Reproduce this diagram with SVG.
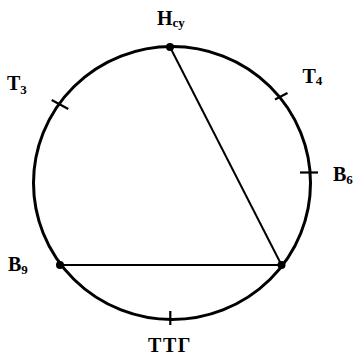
<svg xmlns="http://www.w3.org/2000/svg" width="354" height="356" viewBox="0 0 354 356">
<style>
.lbl{font-family:"Liberation Serif","Times New Roman",serif;font-weight:bold;font-size:20px;fill:#000}
.sub{font-size:13px}
.tick{stroke:#000;stroke-width:2.2;fill:none}
.chord{stroke:#000;stroke-width:2;fill:none}
</style>
<rect width="354" height="356" fill="#fff"/>
<g id="circle">
<ellipse cx="172" cy="183" rx="138.5" ry="136.5" fill="none" stroke="#000" stroke-width="3"/>
</g>
<g id="connectors">
<line class="chord" x1="170" y1="47" x2="281.5" y2="265"/>
<line class="chord" x1="60" y1="265" x2="281.5" y2="265"/>
</g>
<g id="Hcy">
<circle cx="170" cy="47" r="4" fill="#000"/>
<text class="lbl" x="157" y="24.5">H<tspan class="sub" dy="2">cy</tspan></text>
</g>
<g id="T3">
<line class="tick" x1="51.7" y1="100" x2="68.3" y2="109"/>
<text class="lbl" x="7" y="89.5">T<tspan class="sub" dy="4.5">3</tspan></text>
</g>
<g id="T4">
<line class="tick" x1="275" y1="99.5" x2="287.5" y2="93"/>
<text class="lbl" x="302.5" y="82.7">T<tspan class="sub" dy="2.5">4</tspan></text>
</g>
<g id="B6">
<line class="tick" x1="300" y1="172.5" x2="318" y2="172.5"/>
<text class="lbl" x="333" y="180.7">B<tspan class="sub" dy="3">6</tspan></text>
</g>
<g id="B9">
<circle cx="60" cy="265" r="4" fill="#000"/>
<text class="lbl" x="8" y="271">B<tspan class="sub" dy="3">9</tspan></text>
</g>
<g id="P">
<circle cx="281.5" cy="265" r="4" fill="#000"/>
</g>
<g id="TTG">
<line class="tick" x1="170.3" y1="311" x2="170.3" y2="325"/>
<text class="lbl" x="170" y="351.5" text-anchor="middle" letter-spacing="1.5">ТТГ</text>
</g>
</svg>
